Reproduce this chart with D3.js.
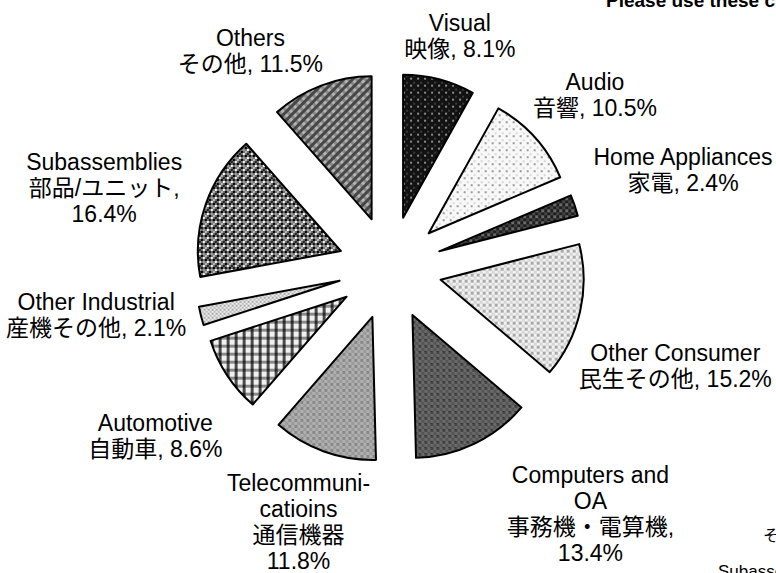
<!DOCTYPE html>
<html>
<head>
<meta charset="utf-8">
<script src="https://cdn.jsdelivr.net/npm/d3@7"></script>
<style>
  body { margin: 0; background: #fff; }
  svg { display: block; font-family: "Liberation Sans", Arial, "Noto Sans CJK JP", sans-serif; }
</style>
</head>
<body>
<svg width="776" height="573"></svg>
<script>
// chart data, clockwise from 12 o'clock
const categoriesEn = ["Visual", "Audio", "Home Appliances", "Other Consumer", "Computers and\nOA",
  "Telecommuni-\ncatioins", "Automotive", "Other Industrial", "Subassemblies", "Others"];
const categoriesJa = ["映像", "音響", "家電", "民生その他", "事務機・電算機",
  "通信機器", "自動車", "産機その他", "部品/ユニット", "その他"];
const shares = [8.1, 10.5, 2.4, 15.2, 13.4, 11.8, 8.6, 2.1, 16.4, 11.5];
// how the Japanese name and the value are joined in each label
const valueSep = [", ", ", ", ", ", ", ", ",\n", "\n", ", ", ", ", ",\n", ", "];

const width = 776, height = 573;
const cx = 390, cy = 268;
const radius = 143;
const explode = 52;
const fontSize = 23, lineH = 26;

// fine tuning of the label boxes (layout only)
const labelNudge = [[12, -10], [25, -11], [24, -7], [-9, 30], [88, 11],
  [-4, 11], [-26, 30], [-7, -26], [-16, 13], [-58, -1]];

// pattern fills, one per slice
const patterns = [
  { size: 7, bg: "#121212", cells: [[0, 0, 2, 2, "#8a8a8a"], [3, 4, 2, 2, "#3a3a3a"]] },
  { size: 7, bg: "#f8f8f8", cells: [[0, 0, 2, 2, "#9a9a9a"], [3, 4, 2, 2, "#d8d8d8"]] },
  { size: 6, bg: "#1e1e1e", cells: [[0, 0, 3, 3, "#6a6a6a"], [3, 3, 3, 3, "#444"]] },
  { size: 6, bg: "#f2f2f2", cells: [[0, 0, 3, 3, "#a8a8a8"], [3, 3, 3, 3, "#d6d6d6"]] },
  { size: 6, bg: "#6a6a6a", cells: [[0, 0, 3, 3, "#444"], [3, 3, 3, 3, "#555"], [0, 0, 1, 1, "#222"]] },
  { size: 6, bg: "#b0b0b0", cells: [[0, 0, 3, 3, "#888"], [3, 3, 3, 3, "#9a9a9a"]] },
  { size: 8, bg: "#f0f0f0", cells: [[0, 0, 8, 3, "#8a8a8a"], [0, 0, 3, 8, "#4a4a4a"], [0, 0, 3, 3, "#2a2a2a"]] },
  { size: 4, bg: "#eeeeee", cells: [[0, 0, 2, 2, "#aaa"], [2, 2, 2, 2, "#bbb"]] },
  { size: 8, bg: "#6e6e6e", cells: [[0, 0, 2, 2, "#000"], [4, 4, 2, 2, "#000"], [2, 2, 2, 2, "#fff"],
      [6, 6, 2, 2, "#eee"], [4, 0, 2, 2, "#1a1a1a"], [0, 4, 2, 2, "#bbb"], [2, 6, 2, 2, "#222"], [6, 2, 2, 2, "#999"]] },
  { size: 6, bg: "#b4b4b4", cells: [[0, 0, 3, 6, "#474747"], [3, 0, 3, 3, "#888"]], rotate: 45 }
];

const svg = d3.select("svg");
const defs = svg.append("defs");

patterns.forEach((p, i) => {
  const pat = defs.append("pattern")
    .attr("id", "pat" + i)
    .attr("patternUnits", "userSpaceOnUse")
    .attr("width", p.size)
    .attr("height", p.size);
  if (p.rotate) pat.attr("patternTransform", `rotate(${p.rotate})`);
  pat.append("rect").attr("width", p.size).attr("height", p.size).attr("fill", p.bg);
  p.cells.forEach(c => {
    pat.append("rect")
      .attr("x", c[0]).attr("y", c[1])
      .attr("width", c[2]).attr("height", c[3])
      .attr("fill", c[4]);
  });
});

const pie = d3.pie().sort(null).value(d => d);
const arcs = pie(shares);
const arc = d3.arc().innerRadius(0).outerRadius(radius);

const g = svg.append("g").attr("transform", `translate(${cx},${cy})`);

const mid = d => (d.startAngle + d.endAngle) / 2;

g.selectAll("path.slice")
  .data(arcs)
  .join("path")
  .attr("class", "slice")
  .attr("d", arc)
  .attr("transform", d => `translate(${Math.sin(mid(d)) * explode},${-Math.cos(mid(d)) * explode})`)
  .attr("fill", (d, i) => `url(#pat${i})`)
  .attr("stroke", "#000")
  .attr("stroke-width", 2)
  .attr("stroke-linejoin", "round");

// labels: box placed just outside each slice along its mid angle
arcs.forEach((d, i) => {
  const text = categoriesEn[i] + "\n" + categoriesJa[i] + valueSep[i] + d.data + "%";
  const lines = text.split("\n");
  const t = g.append("text")
    .attr("text-anchor", "middle")
    .style("font-size", fontSize + "px")
    .attr("fill", "#000");
  lines.forEach(l => t.append("tspan").attr("x", 0).text(l));

  const w = t.node().getBBox().width / 2;
  const h = lines.length * lineH / 2;
  const a = mid(d);
  const dx = Math.sin(a), dy = -Math.cos(a);
  const tBox = Math.min(Math.abs(dx) > 1e-6 ? w / Math.abs(dx) : Infinity,
                        Math.abs(dy) > 1e-6 ? h / Math.abs(dy) : Infinity);
  const dist = explode + radius + 8 + tBox;
  const bx = dx * dist + labelNudge[i][0];
  const by = dy * dist + labelNudge[i][1];
  t.selectAll("tspan")
    .attr("x", bx)
    .attr("y", (l, j) => by - h + j * lineH + 21);
});

// pieces of neighbouring content cut off by the frame
svg.append("text")
  .attr("x", 606).attr("y", 7)
  .style("font-size", "19px").style("font-weight", "bold")
  .text("Please use these charts");
svg.append("text")
  .attr("x", 763).attr("y", 541)
  .style("font-size", "16px")
  .text("その他");
svg.append("text")
  .attr("x", 718).attr("y", 577)
  .style("font-size", "17px")
  .text("Subassemblies");
</script>
</body>
</html>
